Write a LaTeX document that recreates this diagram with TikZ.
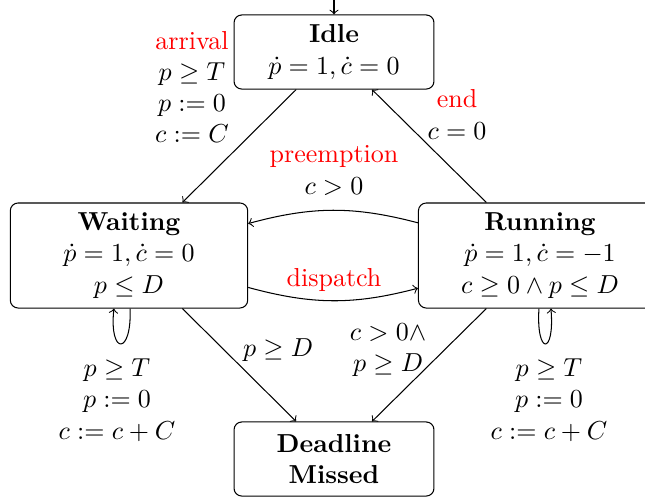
\documentclass[tikz,border=0pt]{standalone}
\usepackage{amsmath}
\begin{document}
\begin{tikzpicture}[x=0.3846pt,y=-0.3846pt,
  state/.style={draw, rounded corners=3pt, align=center, inner sep=2pt},
  smallstate/.style={state, minimum width=76.9pt, minimum height=28.5pt},
  bigstate/.style={state, minimum width=91.3pt, minimum height=40.4pt},
  lbl/.style={align=center, inner sep=0pt},
  >=to]
\useasboundingbox (0,0) rectangle (645,499);
\node[smallstate] (idle) at (334,52) {\textbf{Idle}\\$\dot p=1,\dot c=0$};
\node[bigstate] (waiting) at (129,255.5) {\textbf{Waiting}\\$\dot p=1,\dot c=0$\\$p\leq D$};
\node[bigstate, minimum width=93.5pt] (running) at (540,255.5) {\textbf{Running}\\$\dot p=1,\dot c=-1$\\$c\geq 0\wedge p\leq D$};
\node[smallstate, font=\bfseries] (deadline) at (334,459) {Deadline\\Missed};
\coordinate (init) at (334,0);
\draw[->] (init) -- (idle);
\draw[->] (idle) -- (waiting);
\draw[->] (running) -- (idle);
\draw[->] (running) to[bend right=15] (waiting);
\draw[->] (waiting) to[bend right=15] (running);
\draw[->] (waiting) -- (deadline);
\draw[->] (running) -- (deadline);
\draw[->] ([xshift=0.4pt]waiting.south) .. controls +(2,47) and +(-5,47) .. ([xshift=-5.8pt]waiting.south);
\draw[->] ([xshift=-0.4pt]running.south) .. controls +(-3,47) and +(4,47) .. ([xshift=4.2pt]running.south);
\node[lbl] (l1) at (192,87) {{\color{red}arrival}\\$p\geq T$\\$p:=0$\\$c:=C$};
\node[lbl] (l2) at (457,114.5) {{\color{red}end}\\$c=0$};
\node[lbl] (l3) at (334,170.5) {{\color{red}preemption}\\$c>0$};
\node[lbl, red] (l4) at (334,280) {dispatch};
\node[lbl] (l5) at (278,350) {$p\geq D$};
\node[lbl] (l6) at (388,350) {$c>0\wedge$\\$p\geq D$};
\node[lbl] (l7) at (117,400) {$p\geq T$\\$p:=0$\\$c:=c+C$};
\node[lbl] (l8) at (549,400) {$p\geq T$\\$p:=0$\\$c:=c+C$};
\end{tikzpicture}
\end{document}
